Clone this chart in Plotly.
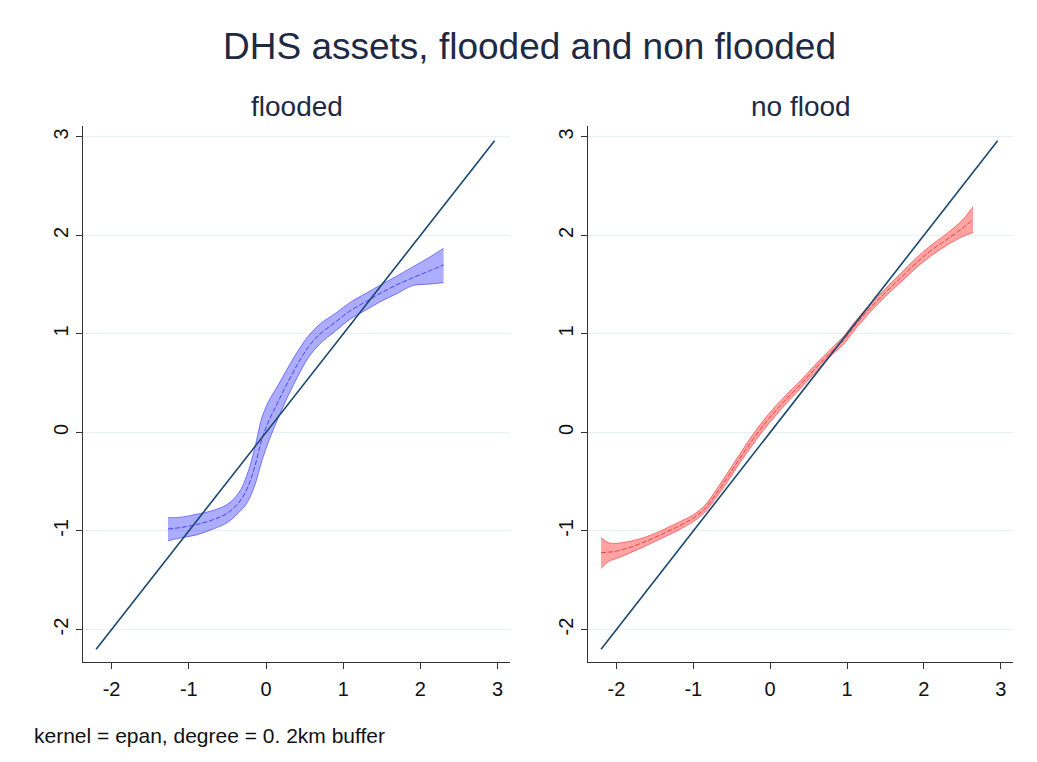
import plotly.graph_objects as go

# ---------------- data ----------------
diag_x = [-2.2, 2.96]
diag_y = [-2.2, 2.96]

flood_x = [-1.27, -1.1, -0.9, -0.7, -0.5, -0.35, -0.25, -0.15, -0.05, 0.05, 0.15, 0.25,
           0.4, 0.55, 0.7, 0.9, 1.1, 1.3, 1.5, 1.7, 1.9, 2.1, 2.3]
flood_fit = [-0.98, -0.965, -0.935, -0.89, -0.82, -0.71, -0.58, -0.36, -0.06, 0.14, 0.30, 0.46,
             0.68, 0.87, 1.00, 1.12, 1.24, 1.33, 1.42, 1.50, 1.57, 1.635, 1.70]
flood_lo = [-1.10, -1.07, -1.04, -0.985, -0.915, -0.81, -0.72, -0.55, -0.28, -0.06, 0.13, 0.31,
            0.55, 0.76, 0.90, 1.03, 1.155, 1.245, 1.335, 1.41, 1.49, 1.505, 1.52]
flood_hi = [-0.865, -0.86, -0.83, -0.795, -0.73, -0.61, -0.44, -0.17, 0.16, 0.34, 0.47, 0.61,
            0.81, 0.98, 1.10, 1.21, 1.325, 1.415, 1.505, 1.59, 1.68, 1.77, 1.87]

noflood_x = [-2.2, -2.1, -2.0, -1.8, -1.6, -1.4, -1.2, -1.0, -0.85, -0.7, -0.55, -0.4, -0.25,
             -0.1, 0.05, 0.2, 0.4, 0.6, 0.8, 0.95, 1.1, 1.3, 1.5, 1.7, 1.9, 2.1, 2.3, 2.5, 2.64]
noflood_fit = [-1.22, -1.215, -1.205, -1.16, -1.10, -1.03, -0.955, -0.87, -0.775, -0.62, -0.45,
               -0.27, -0.10, 0.06, 0.20, 0.33, 0.49, 0.66, 0.82, 0.93, 1.08, 1.26, 1.42, 1.57,
               1.72, 1.85, 1.96, 2.07, 2.16]
noflood_lo = [-1.38, -1.31, -1.28, -1.215, -1.145, -1.07, -0.995, -0.905, -0.81, -0.66, -0.495,
              -0.315, -0.15, 0.01, 0.15, 0.285, 0.45, 0.62, 0.785, 0.89, 1.04, 1.22, 1.38, 1.525,
              1.67, 1.795, 1.90, 1.985, 2.03]
noflood_hi = [-1.07, -1.12, -1.125, -1.10, -1.055, -0.99, -0.915, -0.835, -0.74, -0.58, -0.405,
              -0.225, -0.05, 0.11, 0.25, 0.375, 0.53, 0.70, 0.855, 0.97, 1.12, 1.30, 1.46, 1.615,
              1.77, 1.905, 2.02, 2.155, 2.29]

tick_vals = [-2, -1, 0, 1, 2, 3]
tick_text = ["-2", "-1", "0", "1", "2", "3"]

title_text = "DHS assets, flooded and non flooded"
panel_titles = ["flooded", "no flood"]
note_text = "kernel = epan, degree = 0. 2km buffer"

# ---------------- style ----------------
FONT = "Liberation Sans, Arial, sans-serif"
NAVY = "#1a476f"
TXT = "#1e2a44"
W, H, OFF = 1029, 754, 8   # page body margin of 8px is compensated


def px(xp):
    return (xp - OFF) / W


def py(yp):
    return 1 - (yp - OFF) / H


fig = go.Figure()


def add_panel(xs, fit, lo, hi, xa, ya, fill, edge, mid):
    fig.add_trace(go.Scatter(x=xs, y=lo, mode="lines", line=dict(color=edge, width=1, shape="spline"),
                             xaxis=xa, yaxis=ya, showlegend=False, hoverinfo="skip"))
    fig.add_trace(go.Scatter(x=xs, y=hi, mode="lines", line=dict(color=edge, width=1, shape="spline"),
                             fill="tonexty", fillcolor=fill,
                             xaxis=xa, yaxis=ya, showlegend=False, hoverinfo="skip"))
    fig.add_trace(go.Scatter(x=xs, y=fit, mode="lines",
                             line=dict(color=mid, width=1, dash="5px,2px", shape="spline"),
                             xaxis=xa, yaxis=ya, showlegend=False))
    fig.add_trace(go.Scatter(x=diag_x, y=diag_y, mode="lines", line=dict(color=NAVY, width=1.6),
                             xaxis=xa, yaxis=ya, showlegend=False))


add_panel(flood_x, flood_fit, flood_lo, flood_hi, "x", "y",
          "rgba(0,0,255,0.32)", "rgba(0,0,255,0.45)", "rgba(0,0,220,0.6)")
add_panel(noflood_x, noflood_fit, noflood_lo, noflood_hi, "x2", "y2",
          "rgba(255,0,0,0.36)", "rgba(255,0,0,0.45)", "rgba(220,0,0,0.6)")

xr = [-2.37, 3.16]
yr = [-2.33, 3.11]
ax_common = dict(showline=True, linecolor="#333333", linewidth=1.2, ticks="outside",
                 ticklen=6, tickcolor="#333333", tickwidth=1.2, zeroline=False,
                 tickvals=tick_vals, ticktext=tick_text,
                 tickfont=dict(family=FONT, size=20, color="#111111"))

ydom = [py(662), py(126)]
fig.update_layout(
    width=W, height=H,
    margin=dict(l=0, r=0, t=0, b=0),
    paper_bgcolor="white", plot_bgcolor="white",
    xaxis=dict(domain=[px(83), px(510)], range=xr, anchor="y", showgrid=False,
               ticklabelstandoff=3, **ax_common),
    yaxis=dict(domain=ydom, range=yr, anchor="x", showgrid=True, gridcolor="#e9f0f2",
               gridwidth=1, tickangle=-90, **ax_common),
    xaxis2=dict(domain=[px(588), px(1013)], range=xr, anchor="y2", showgrid=False,
                ticklabelstandoff=3, **ax_common),
    yaxis2=dict(domain=ydom, range=yr, anchor="x2", showgrid=True, gridcolor="#e9f0f2",
                gridwidth=1, tickangle=-90, **ax_common),
    annotations=[
        dict(text=title_text, x=px(529), y=py(47), xref="paper", yref="paper",
             showarrow=False, xanchor="center", yanchor="middle",
             font=dict(family=FONT, size=37, color=TXT)),
        dict(text=panel_titles[0], x=px(296.5), y=py(107), xref="paper", yref="paper",
             showarrow=False, xanchor="center", yanchor="middle",
             font=dict(family=FONT, size=28, color=TXT)),
        dict(text=panel_titles[1], x=px(800.5), y=py(107), xref="paper", yref="paper",
             showarrow=False, xanchor="center", yanchor="middle",
             font=dict(family=FONT, size=28, color=TXT)),
        dict(text=note_text, x=px(32), y=py(735), xref="paper", yref="paper",
             showarrow=False, xanchor="left", yanchor="middle",
             font=dict(family=FONT, size=21, color="#111111")),
    ],
)

fig.write_html("out.html")
